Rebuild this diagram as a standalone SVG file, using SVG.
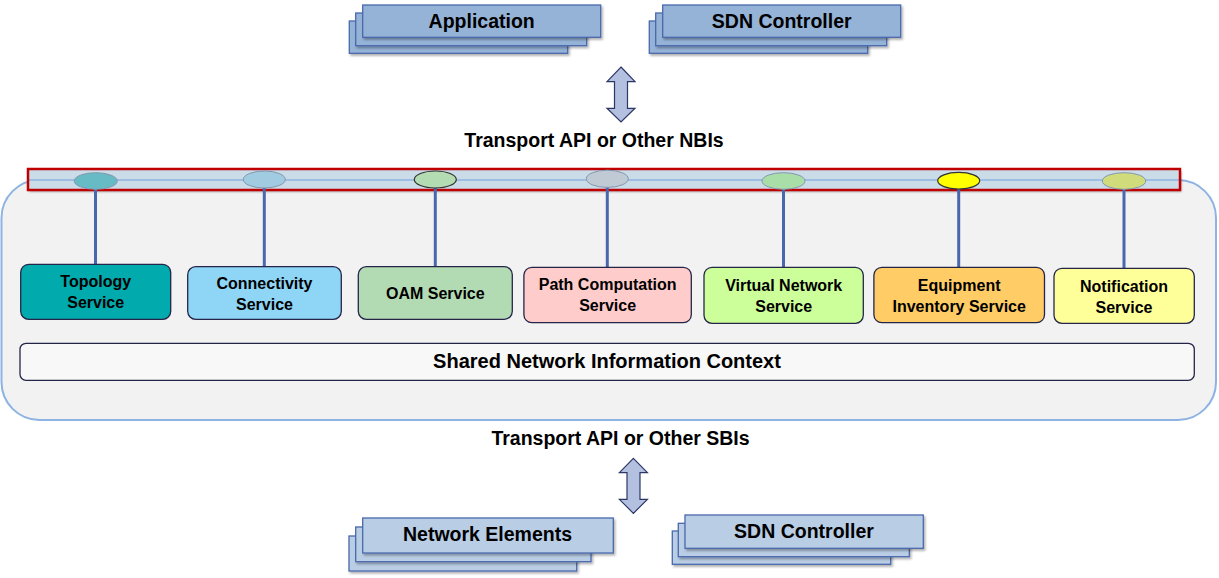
<svg xmlns="http://www.w3.org/2000/svg" width="1219" height="578" viewBox="0 0 1219 578">
<style>
  .t { font-family: "Liberation Sans", Arial, sans-serif; font-weight: bold; fill: #000; text-anchor: middle; }
  .big { font-size: 19.5px; }
  .svc { font-size: 16px; }
  .stackTop { fill: #95b3d7; stroke: #4a69ad; stroke-width: 1.3; }
  .stackBot { fill: #b9cde5; stroke: #4a69ad; stroke-width: 1.3; }
  .svcbox { stroke: #25254a; stroke-width: 1.3; }
  .stem { stroke: #4a66ac; stroke-width: 3; fill: none; }
  .ell { stroke: #8497b0; stroke-width: 1; }
  .arrow { fill: #b4c0e0; stroke: #2c3766; stroke-width: 1.2; }
</style>
<defs>
  <filter id="sh" x="-5%" y="-20%" width="115%" height="160%">
    <feDropShadow dx="1.5" dy="2" stdDeviation="1.2" flood-color="#000" flood-opacity="0.3"/>
  </filter>
</defs>
<rect width="1219" height="578" fill="#ffffff"/>

<!-- container -->
<g id="container">
  <rect x="1.5" y="180" width="1214.5" height="240" rx="38" ry="38" fill="#f2f2f2" stroke="#8db3e2" stroke-width="2"/>
</g>

<!-- API bar -->
<g id="api-bar">
  <rect x="28" y="169" width="1152" height="21" fill="#c9dce8" filter="url(#sh)"/>
  <line x1="29" y1="180" x2="1179" y2="180" stroke="#9dbde2" stroke-width="2"/>
  <rect x="28" y="169" width="1152" height="21" fill="none" stroke="#c00000" stroke-width="2.5"/>
</g>

<!-- connectors -->
<g id="connectors">
  <line class="stem" x1="95.5" y1="186" x2="95.5" y2="265"/>
  <line class="stem" x1="264.3" y1="186" x2="264.3" y2="267"/>
  <line class="stem" x1="435.3" y1="186" x2="435.3" y2="267"/>
  <line class="stem" x1="607.3" y1="186" x2="607.3" y2="268"/>
  <line class="stem" x1="783.5" y1="186" x2="783.5" y2="268"/>
  <line class="stem" x1="958.7" y1="186" x2="958.7" y2="268"/>
  <line class="stem" x1="1124" y1="186" x2="1124" y2="269"/>
  <!-- NBI arrow -->
  <path class="arrow" d="M621,67 L635,81.7 L627.5,81.7 L627.5,108.3 L635,108.3 L621,122 L607,108.3 L614.5,108.3 L614.5,81.7 L607,81.7 Z"/>
  <!-- SBI arrow -->
  <path class="arrow" d="M633.4,458.3 L647.4,472.7 L640,472.7 L640,499.3 L647.4,499.3 L633.4,513.3 L619.4,499.3 L627,499.3 L627,472.7 L619.4,472.7 Z"/>
</g>

<!-- ellipses (service access points) -->
<g id="access-points">
  <ellipse class="ell" cx="95.7" cy="181" rx="21.5" ry="8.3" fill="#66bbc4"/>
  <ellipse class="ell" cx="264.3" cy="179.5" rx="21" ry="8.5" fill="#a0cbe1"/>
  <ellipse cx="435.3" cy="179.5" rx="21" ry="8.5" fill="#b3dcb3" stroke="#333333" stroke-width="1.2"/>
  <ellipse class="ell" cx="607.3" cy="178.8" rx="21" ry="8.6" fill="#c0cad5"/>
  <ellipse class="ell" cx="783.5" cy="181" rx="21.5" ry="8.3" fill="#a9dea8"/>
  <ellipse cx="958.7" cy="180.7" rx="21" ry="8.3" fill="#ffff00" stroke="#333333" stroke-width="1.2"/>
  <ellipse class="ell" cx="1124" cy="181" rx="21.7" ry="8.3" fill="#d0dc7c"/>
</g>

<!-- top stacks -->
<g id="application">
  <rect class="stackTop" x="349.3" y="21" width="218.4" height="32.3" filter="url(#sh)"/>
  <rect class="stackTop" x="355.7" y="13" width="231" height="32.7" filter="url(#sh)"/>
  <rect class="stackTop" x="362.7" y="5" width="238" height="32.3" filter="url(#sh)"/>
  <text class="t big" x="481.7" y="28">Application</text>
</g>
<g id="sdn-controller-top">
  <rect class="stackTop" x="649.3" y="21" width="218.4" height="32.3" filter="url(#sh)"/>
  <rect class="stackTop" x="655.7" y="13" width="231" height="32.7" filter="url(#sh)"/>
  <rect class="stackTop" x="662.7" y="5" width="238" height="32.3" filter="url(#sh)"/>
  <text class="t big" x="781.7" y="28">SDN Controller</text>
</g>

<g id="nbi-label">
  <text class="t big" x="594" y="147">Transport API or Other NBIs</text>
</g>

<!-- services -->
<g id="topology-service">
  <rect class="svcbox" x="20.7" y="264.3" width="150" height="55" rx="8" fill="#00aaad"/>
  <text class="t svc" x="95.7" y="287">Topology</text>
  <text class="t svc" x="95.7" y="308">Service</text>
</g>
<g id="connectivity-service">
  <rect class="svcbox" x="187.7" y="266.7" width="153.6" height="52.6" rx="8" fill="#8fd5f5"/>
  <text class="t svc" x="264.5" y="289">Connectivity</text>
  <text class="t svc" x="264.5" y="310">Service</text>
</g>
<g id="oam-service">
  <rect class="svcbox" x="358.3" y="266.7" width="154" height="52.6" rx="8" fill="#b3dbb3"/>
  <text class="t svc" x="435.3" y="299">OAM Service</text>
</g>
<g id="path-computation-service">
  <rect class="svcbox" x="523.9" y="267.3" width="167.4" height="55.4" rx="8" fill="#ffcccc"/>
  <text class="t svc" x="607.6" y="290">Path Computation</text>
  <text class="t svc" x="607.6" y="311">Service</text>
</g>
<g id="virtual-network-service">
  <rect class="svcbox" x="704" y="267.3" width="159.3" height="56" rx="8" fill="#ccff99"/>
  <text class="t svc" x="783.7" y="291">Virtual Network</text>
  <text class="t svc" x="783.7" y="312">Service</text>
</g>
<g id="equipment-inventory-service">
  <rect class="svcbox" x="873.9" y="267.3" width="170.6" height="55.4" rx="8" fill="#ffcc66"/>
  <text class="t svc" x="959.2" y="291">Equipment</text>
  <text class="t svc" x="959.2" y="312">Inventory Service</text>
</g>
<g id="notification-service">
  <rect class="svcbox" x="1054" y="268.3" width="140.3" height="55" rx="8" fill="#ffff99"/>
  <text class="t svc" x="1124" y="292">Notification</text>
  <text class="t svc" x="1124" y="313">Service</text>
</g>

<g id="shared-context">
  <rect x="20" y="343.3" width="1174.3" height="37" rx="6" fill="#f8f8f8" stroke="#25254a" stroke-width="1.3"/>
  <text class="t" font-size="20" x="607" y="368">Shared Network Information Context</text>
</g>

<g id="sbi-label">
  <text class="t big" x="620.5" y="445">Transport API or Other SBIs</text>
</g>

<!-- bottom stacks -->
<g id="network-elements">
  <rect class="stackBot" x="349" y="536" width="227.7" height="35" filter="url(#sh)"/>
  <rect class="stackBot" x="355.7" y="527" width="235.3" height="34.7" filter="url(#sh)"/>
  <rect class="stackBot" x="362.7" y="518" width="250.6" height="35" filter="url(#sh)"/>
  <text class="t big" x="487.5" y="541">Network Elements</text>
</g>
<g id="sdn-controller-bottom">
  <rect class="stackBot" x="672.3" y="531" width="218.4" height="33.3" filter="url(#sh)"/>
  <rect class="stackBot" x="678.3" y="523.3" width="231" height="33.4" filter="url(#sh)"/>
  <rect class="stackBot" x="685" y="515" width="238.3" height="33.3" filter="url(#sh)"/>
  <text class="t big" x="804" y="538">SDN Controller</text>
</g>
</svg>
